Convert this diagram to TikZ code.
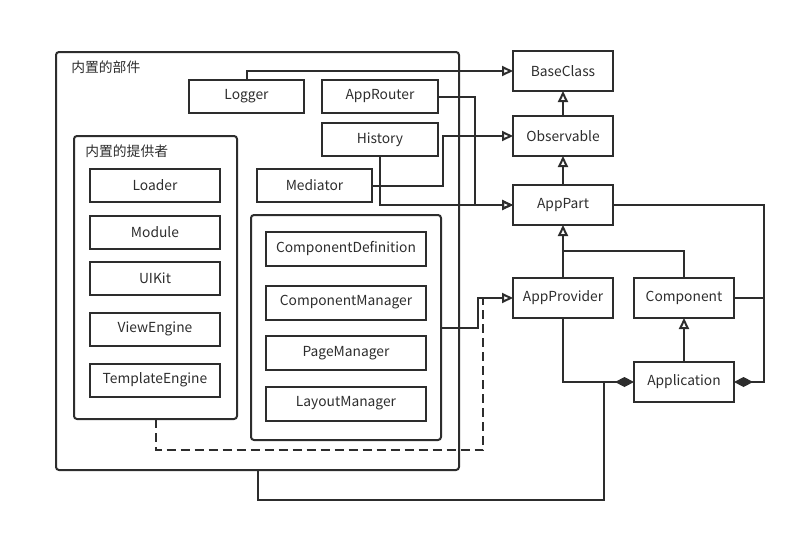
\documentclass[tikz,border=0pt]{standalone}
\usepackage{fontspec}
\setmainfont{Noto Sans CJK SC}
\usepackage{tikz}
\usetikzlibrary{arrows.meta, positioning}
\definecolor{ink}{RGB}{45,45,45}

\begin{document}
\begin{tikzpicture}[x=1pt, y=-1pt, line width=2pt, color=ink, font=\fontsize{13.8}{16}\selectfont]
    \tikzstyle{part}=[rectangle, draw, minimum height=33pt, inner sep=0pt, outer sep=0pt, text centered]
    \tikzstyle{group}=[rectangle, draw, rounded corners=3pt, inner sep=0pt, outer sep=0pt]
    \tikzstyle{extends}=[-{Triangle[open, length=11pt, width=10pt]}]
    \tikzstyle{owns}=[-{Diamond[length=19pt, width=10pt]}]

    \useasboundingbox (0,0) rectangle (796,533);

    % groups
    \node[group, minimum width=403pt, minimum height=418pt] (parts)     at (257.5,261)   {};
    \node[group, minimum width=163pt, minimum height=283pt] (providers) at (155.5,277.5) {};
    \node[group, minimum width=190pt, minimum height=225pt] (compgroup) at (346,327.5)   {};
    \node[anchor=west] (partslabel)    at (67,67)  {内置的部件};
    \node[anchor=west] (providerlabel) at (81,151) {内置的提供者};

    % built-in parts
    \node[part, minimum width=115pt] (Logger)    at (246.5,96.5)  {Logger};
    \node[part, minimum width=116pt] (AppRouter) at (380,96.5)    {AppRouter};
    \node[part, minimum width=116pt] (History)   at (380,139.5)   {History};
    \node[part, minimum width=115pt] (Mediator)  at (314.5,185.5) {Mediator};

    % built-in providers
    \node[part, minimum width=130pt] (Loader)         at (155,185)         {Loader};
    \node[part, minimum width=130pt] (Module)         [below=14pt of Loader]     {Module};
    \node[part, minimum width=130pt] (UIKit)          [below=13pt of Module]     {UIKit};
    \node[part, minimum width=130pt] (ViewEngine)     [below=18pt of UIKit]      {ViewEngine};
    \node[part, minimum width=130pt] (TemplateEngine) [below=18pt of ViewEngine] {TemplateEngine};

    % component parts
    \node[part, minimum width=160pt, minimum height=34pt] (CompDef)    at (346,248.5)          {ComponentDefinition};
    \node[part, minimum width=160pt, minimum height=34pt] (CompMgr)    [below=20pt of CompDef] {ComponentManager};
    \node[part, minimum width=160pt, minimum height=34pt] (PageMgr)    [below=16.5pt of CompMgr] {PageManager};
    \node[part, minimum width=160pt, minimum height=34pt] (LayoutMgr)  [below=16.5pt of PageMgr] {LayoutManager};

    % class hierarchy
    \node[part, minimum width=100pt, minimum height=40pt] (BaseClass)   at (563,71)                {BaseClass};
    \node[part, minimum width=100pt, minimum height=40pt] (Observable)  [below=25pt of BaseClass]  {Observable};
    \node[part, minimum width=100pt, minimum height=40pt] (AppPart)     [below=29pt of Observable] {AppPart};
    \node[part, minimum width=100pt, minimum height=40pt] (AppProvider) [below=53pt of AppPart]    {AppProvider};
    \node[part, minimum width=100pt, minimum height=40pt] (Component)   [right=21pt of AppProvider] {Component};
    \node[part, minimum width=100pt, minimum height=40pt] (Application) [below=44pt of Component]  {Application};

    \coordinate (dashjoin) at (483,298);
    \coordinate (appjoin)  at (604,382);

    % connectors
    \draw[extends] (Logger.north) |- (BaseClass.west);
    \draw[extends] (Observable.north) -- (BaseClass.south);
    \draw[extends] (AppPart.north) -- (Observable.south);
    \draw[extends] (AppRouter.east) -- ++(37,0) |- (AppPart.west);
    \draw[extends] (History.south) |- (AppPart.west);
    \draw[extends] (Mediator.east) -- ++(71,0) |- (Observable.west);
    \draw[extends] (AppProvider.north) -- (AppPart.south);
    \draw (Component.north) -- ++(0,-27) -| (AppProvider.north);
    \draw[extends] (Application.north) -- (Component.south);
    \draw[extends] (compgroup.east) -- ++(37,0) |- (AppProvider.west);
    \draw[dash pattern=on 9pt off 5pt] (providers.south) -- ++(0,31) -| (dashjoin);
    \draw[owns] (AppPart.east) -- ++(151,0) |- (Application.east);
    \draw (Component.east) -- ++(30,0);
    \draw[owns] (AppProvider.south) |- (Application.west);
    \draw (parts.south) -- ++(0,30) -| (appjoin);
\end{tikzpicture}
\end{document}
